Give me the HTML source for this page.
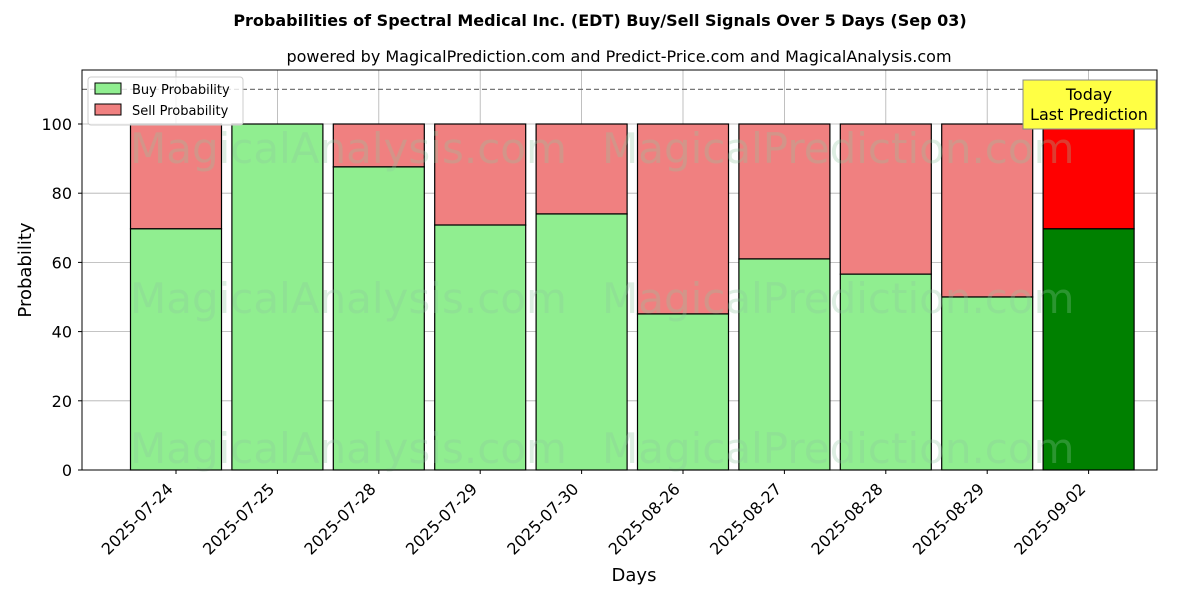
<!DOCTYPE html>
<html><head><meta charset="utf-8"><style>
body{margin:0;background:#fff;font-family:"DejaVu Sans","Liberation Sans",sans-serif;}
svg text{font-family:"DejaVu Sans","Liberation Sans",sans-serif;}
</style></head><body>
<svg id="chart" width="1200" height="600" xmlns="http://www.w3.org/2000/svg">
<text x="600" y="26" text-anchor="middle" font-size="16" font-weight="bold">Probabilities of Spectral Medical Inc. (EDT) Buy/Sell Signals Over 5 Days (Sep 03)</text>
<text x="619" y="62" text-anchor="middle" font-size="16">powered by MagicalPrediction.com and Predict-Price.com and MagicalAnalysis.com</text>
<g id="grid"></g>
<g id="bars"></g>
<g id="wm" fill="#90c8a0" fill-opacity="0.3" font-size="42">
<text x="130" y="163">MagicalAnalysis.com</text>
<text x="602" y="163">MagicalPrediction.com</text>
<text x="130" y="313">MagicalAnalysis.com</text>
<text x="602" y="313">MagicalPrediction.com</text>
<text x="130" y="463">MagicalAnalysis.com</text>
<text x="602" y="463">MagicalPrediction.com</text>
</g>
<g id="axes"></g>
<rect x="82" y="70" width="1075" height="400" fill="none" stroke="#000" stroke-width="1"/>
<g>
<rect x="88" y="77" width="155" height="48" fill="#fff" fill-opacity="0.8" stroke="#ccc" rx="3"/>
<rect x="95" y="83" width="26" height="11" fill="#90ee90" stroke="#000"/>
<text x="132" y="94" font-size="13">Buy Probability</text>
<rect x="95" y="104" width="26" height="11" fill="#f08080" stroke="#000"/>
<text x="132" y="115" font-size="13">Sell Probability</text>
</g>
<g>
<rect x="1023" y="80" width="133" height="49" fill="#ffff44" stroke="#888"/>
<text x="1089" y="100" text-anchor="middle" font-size="16">Today</text>
<text x="1089" y="120" text-anchor="middle" font-size="16">Last Prediction</text>
</g>
<text x="634" y="581" text-anchor="middle" font-size="18">Days</text>
<text transform="translate(31,270) rotate(-90)" text-anchor="middle" font-size="18">Probability</text>
</svg>
<script>
const categories=["2025-07-24","2025-07-25","2025-07-28","2025-07-29","2025-07-30","2025-08-26","2025-08-27","2025-08-28","2025-08-29","2025-09-02"];
const buyValues=[69.7,100,87.6,70.8,74.0,45.1,61.0,56.6,50.0,69.7];
const yTicks=[0,20,40,60,80,100];
const NS="http://www.w3.org/2000/svg";
const y=v=>470-v*3.46;
const x=i=>176+i*101.4;
const bw=91;
function mk(tag,attrs,parent){const e=document.createElementNS(NS,tag);for(const k in attrs)e.setAttribute(k,attrs[k]);parent.appendChild(e);return e;}
const grid=document.getElementById('grid'),bars=document.getElementById('bars'),axes=document.getElementById('axes');
yTicks.forEach(t=>{
  const l=mk('line',{x1:82,x2:1157,y1:y(t),y2:y(t),stroke:'#b0b0b0','stroke-width':0.8},grid);
  
  
  mk('line',{x1:78,x2:82,y1:y(t),y2:y(t),stroke:'#000'},axes);
  const tx=mk('text',{x:72,y:y(t)+6,'text-anchor':'end','font-size':16},axes);
  tx.textContent=t;
  
  
});
categories.forEach((c,i)=>{
  const g=mk('line',{x1:x(i),x2:x(i),y1:70,y2:470,stroke:'#b0b0b0','stroke-width':0.8},grid);
  
  
  const last=i===categories.length-1;
  const b=buyValues[i];
  const s=mk('rect',{x:x(i)-bw/2,y:y(100),width:bw,height:y(b)-y(100),fill:last?'#ff0000':'#f08080',stroke:'#000','stroke-width':1.2},bars);
  
  
  const r=mk('rect',{x:x(i)-bw/2,y:y(b),width:bw,height:470-y(b),fill:last?'#008000':'#90ee90',stroke:'#000','stroke-width':1.2},bars);
  
  
  mk('line',{x1:x(i),x2:x(i),y1:470,y2:474,stroke:'#000'},axes);
  const tx0=x(i)-2,ty0=490;
  const t=mk('text',{x:tx0,y:ty0,'text-anchor':'end','font-size':16,transform:`rotate(-45 ${tx0} ${ty0})`},axes);
  t.textContent=c;
  
  
});
const d=mk('line',{x1:82,x2:1157,y1:y(110),y2:y(110),stroke:'#777','stroke-dasharray':'5,3','stroke-width':1.2},bars);


</script>
</body></html>
